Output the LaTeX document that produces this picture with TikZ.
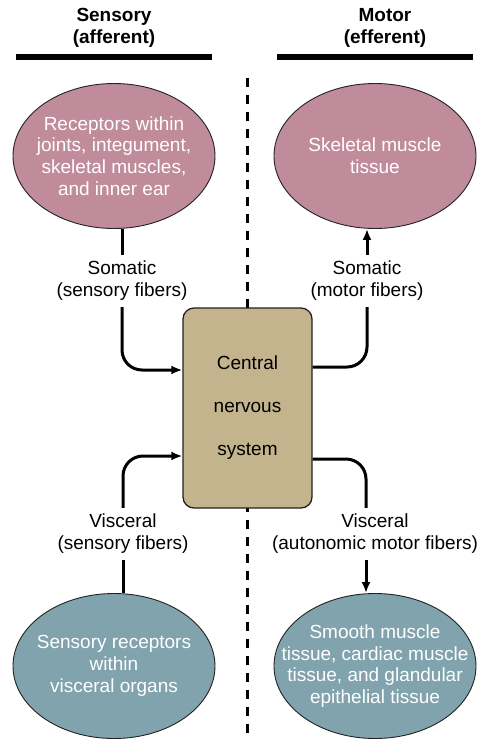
\documentclass[tikz,border=0pt]{standalone}
\usepackage{fontspec}
\setmainfont{Liberation Sans}
\usetikzlibrary{arrows.meta,calc,shapes.geometric}
\definecolor{pinkc}{HTML}{C08B9B}
\definecolor{bluec}{HTML}{80A3AD}
\definecolor{tanc}{HTML}{C4B48E}
\definecolor{edgec}{HTML}{222222}
\tikzset{
  hdr/.style={font=\fontsize{19}{22}\selectfont\bfseries, align=center, inner sep=0pt},
  hline/.style={line width=6pt},
  divider/.style={line width=3pt, dash pattern=on 9pt off 8pt},
  ell/.style={ellipse, draw=edgec, line width=0.9pt, minimum width=202pt, minimum height=145pt, inner sep=0pt},
  elltext/.style={align=center, text=white, inner sep=0pt, font=\fontsize{19}{21.7}\selectfont},
  cnsbox/.style={rectangle, rounded corners=11pt, draw=edgec, line width=1.3pt, fill=tanc, minimum width=129pt, minimum height=200pt, align=center, font=\fontsize{19}{22}\selectfont},
  lab/.style={align=center, inner xsep=2pt, inner ysep=6pt, font=\fontsize{19}{22}\selectfont},
  conn/.style={line width=3pt},
  arr/.style={-{Latex[length=11pt,width=9pt]}},
}
\begin{document}
\begin{tikzpicture}[x=1pt,y=-1pt]
\useasboundingbox (0,0) rectangle (484,740);
% headers
\node[hdr] (hs) at (114,28) {Sensory\\(afferent)};
\node[hdr] (hm) at (385,28) {Motor\\(efferent)};
\draw[hline] (16,57) -- (212,57);
\draw[hline] (277,57) -- (473,57);
% divider
\draw[divider] (247,78) -- (247,740);
% ellipses
\node[ell, fill=pinkc] (tl) at (114,156) {};
\node[elltext] (tlt) at (tl) {Receptors within\\joints, integument,\\skeletal muscles,\\and inner ear};
\node[ell, fill=pinkc] (tr) at (375,156) {};
\node[elltext] (trt) at (tr) {Skeletal muscle\\tissue};
\node[ell, fill=bluec] (bl) at (114,666) {};
\node[elltext] (blt) at (bl) {Sensory receptors\\within\\visceral organs};
\node[ell, fill=bluec] (br) at (375,666) {};
\node[elltext] (brt) at (br) {Smooth muscle\\tissue, cardiac muscle\\tissue, and glandular\\epithelial tissue};
% CNS
\node[cnsbox] (cns) at (247.5,408) {Central\\[21pt]nervous\\[21pt]system};
% labels
\node[lab] (ls) at (122,281) {Somatic\\(sensory fibers)};
\node[lab] (rs) at (367,281) {Somatic\\(motor fibers)};
\node[lab] (lv) at (123,534) {Visceral\\(sensory fibers)};
\node[lab] (rv) at (375,534) {Visceral\\(autonomic motor fibers)};
\coordinate (rvx) at (366,0);
% connectors
\draw[conn] (ls.north) -- (ls.north |- tl.south);
\draw[conn, arr, rounded corners=20pt] (ls.south) |- ($(cns.west)+(0,-38)$);
\draw[conn, arr] (rs.north) -- (rs.north |- tr.south);
\draw[conn, rounded corners=20pt] ($(cns.east)+(0,-41)$) -| (rs.south);
\draw[conn, arr, rounded corners=20pt] (lv.north) |- ($(cns.west)+(0,48)$);
\draw[conn] (lv.south) -- (lv.south |- bl.north);
\draw[conn, rounded corners=20pt] ($(cns.east)+(0,51)$) -| (rvx |- rv.north);
\draw[conn, arr] (rvx |- rv.south) -- (rvx |- br.north);
\end{tikzpicture}
\end{document}
